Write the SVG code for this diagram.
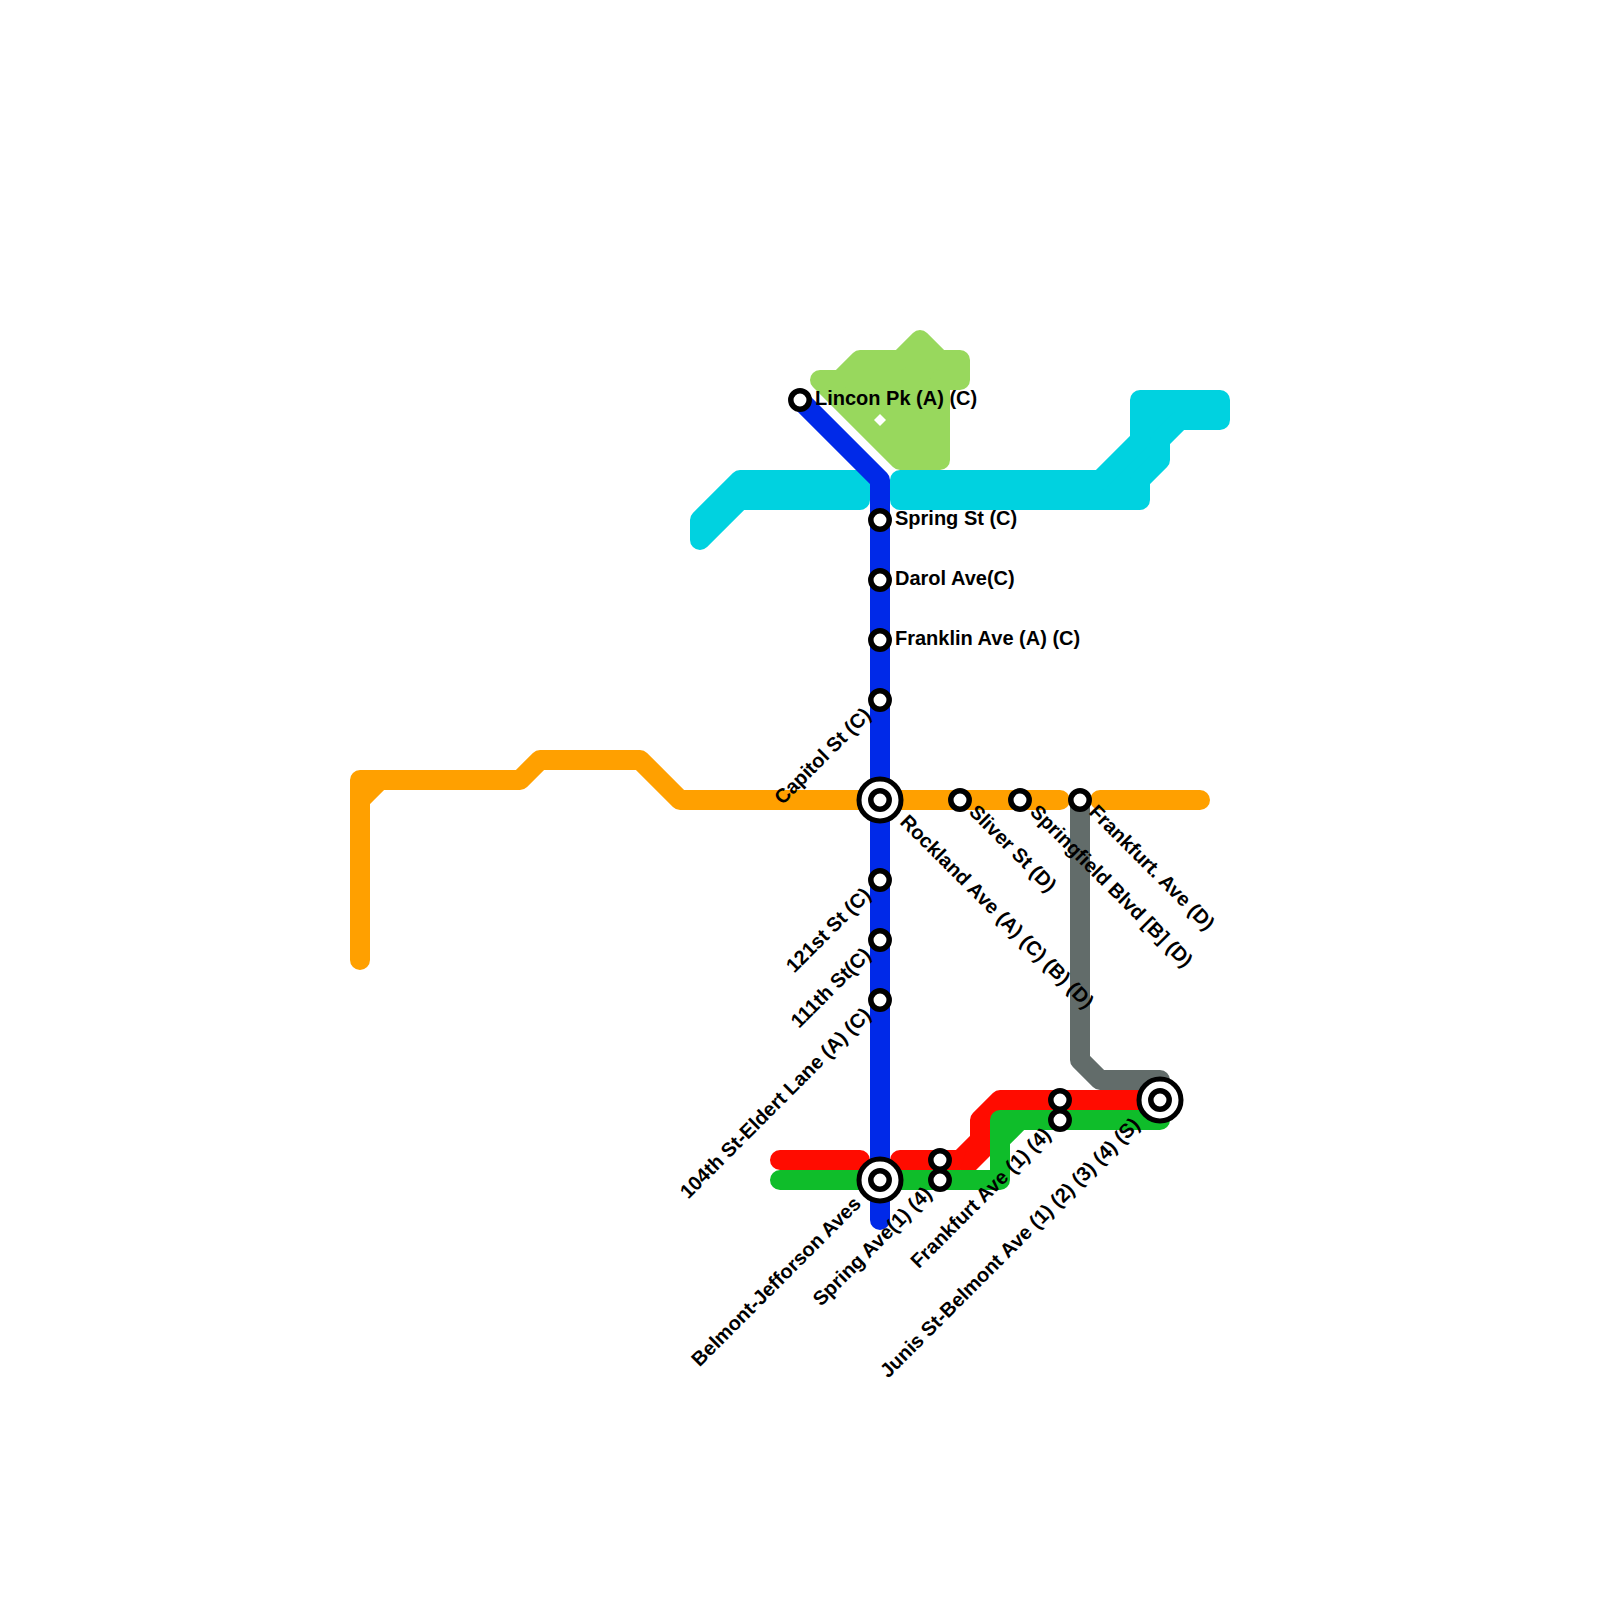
<svg xmlns="http://www.w3.org/2000/svg" width="1600" height="1600" viewBox="0 0 1600 1600">
<style>
.l{fill:none;stroke-width:20;stroke-linecap:round;stroke-linejoin:round}
.s{fill:#fff;stroke:#000;stroke-width:5.5}
.o{fill:#fff;stroke:#000;stroke-width:5}
text{font-family:"Liberation Sans",Arial,sans-serif;font-weight:bold;font-size:20px;fill:#000}
.e{text-anchor:end}
</style>
<defs>
<g id="st"><circle class="s" r="9.2"/></g>
<g id="ix"><circle class="o" r="21"/><circle class="s" r="9.2"/></g>
</defs>
<rect width="1600" height="1600" fill="#fff"/>
<g id="park">
<path d="M820,380H840L860,360H900L920,340L940,360H960V380H940V460H900Z" fill="#98d85d" stroke="#98d85d" stroke-width="20" stroke-linejoin="round"/>
<path d="M880,414L886,420L880,426L874,420Z" fill="#fff"/>
</g>
<g id="connectors">
<path class="l" stroke="#00d2e0" style="fill:#00d2e0" d="M700,520L740,480H860V500H740L700,540Z"/>
<path class="l" stroke="#00d2e0" style="fill:#00d2e0" d="M900,480H1100L1140,440V400H1220V420H1180L1160,440V460L1140,480V500H900Z"/>
<path class="l" stroke="#ffa000" d="M360,960V780H520L540,760H640L680,800H860M360,800L380,780M900,800H1060M1100,800H1200"/>
<path class="l" stroke="#626c6a" d="M1080,800V1060L1100,1080H1160"/>
<path class="l" stroke="#ff0c00" d="M780,1160H860M900,1160H960L980,1140V1120L1000,1100H1160"/>
<path d="M960,1170H976L990,1156V1120L970,1140Z" fill="#ff0c00"/>
<path class="l" stroke="#0fbd2a" d="M780,1180H1000V1120H1160M1000,1140L1020,1120"/>
<path class="l" stroke="#0029e8" d="M800,400L880,480V1220"/>
</g>
<g id="n1"><use href="#st" x="800" y="400"/><text x="815" y="405">Lincon Pk (A) (C)</text></g>
<g id="n2"><use href="#st" x="880" y="520"/><text x="895" y="525">Spring St (C)</text></g>
<g id="n3"><use href="#st" x="880" y="580"/><text x="895" y="585">Darol Ave(C)</text></g>
<g id="n4"><use href="#st" x="880" y="640"/><text x="895" y="645">Franklin Ave (A) (C)</text></g>
<g id="n5"><use href="#st" x="880" y="700"/><text class="e" transform="translate(872,716) rotate(-45)">Capitol St (C)</text></g>
<g id="n6"><use href="#ix" x="880" y="800"/><text transform="translate(899,823) rotate(45)">Rockland Ave (A) (C) (B) (D)</text></g>
<g id="n7"><use href="#st" x="880" y="880"/><text class="e" transform="translate(872,896) rotate(-45)">121st St (C)</text></g>
<g id="n8"><use href="#st" x="880" y="940"/><text class="e" transform="translate(872,956) rotate(-45)">111th St(C)</text></g>
<g id="n9"><use href="#st" x="880" y="1000"/><text class="e" transform="translate(872,1016) rotate(-45)">104th St-Eldert Lane (A) (C)</text></g>
<g id="n10"><use href="#ix" x="880" y="1180"/><text class="e" transform="translate(862,1205) rotate(-45)">Belmont-Jefforson Aves</text></g>
<g id="n11"><use href="#st" x="940" y="1160"/><use href="#st" x="940" y="1180"/><text class="e" transform="translate(933,1195) rotate(-45)">Spring Ave(1) (4)</text></g>
<g id="n12"><use href="#st" x="960" y="800"/><text transform="translate(968,813) rotate(45)">Sliver St (D)</text></g>
<g id="n13"><use href="#st" x="1020" y="800"/><text transform="translate(1029,813) rotate(45)">Springfield Blvd [B] (D)</text></g>
<g id="n14"><use href="#st" x="1080" y="800"/><text transform="translate(1088,813) rotate(45)">Frankfurt. Ave (D)</text></g>
<g id="n15"><use href="#st" x="1060" y="1100"/><use href="#st" x="1060" y="1120"/><text class="e" transform="translate(1052,1136) rotate(-45)">Frankfurt Ave (1) (4)</text></g>
<g id="n16"><use href="#ix" x="1160" y="1100"/><text class="e" transform="translate(1141,1126) rotate(-45)">Junis St-Belmont Ave (1) (2) (3) (4) (S)</text></g>
</svg>
